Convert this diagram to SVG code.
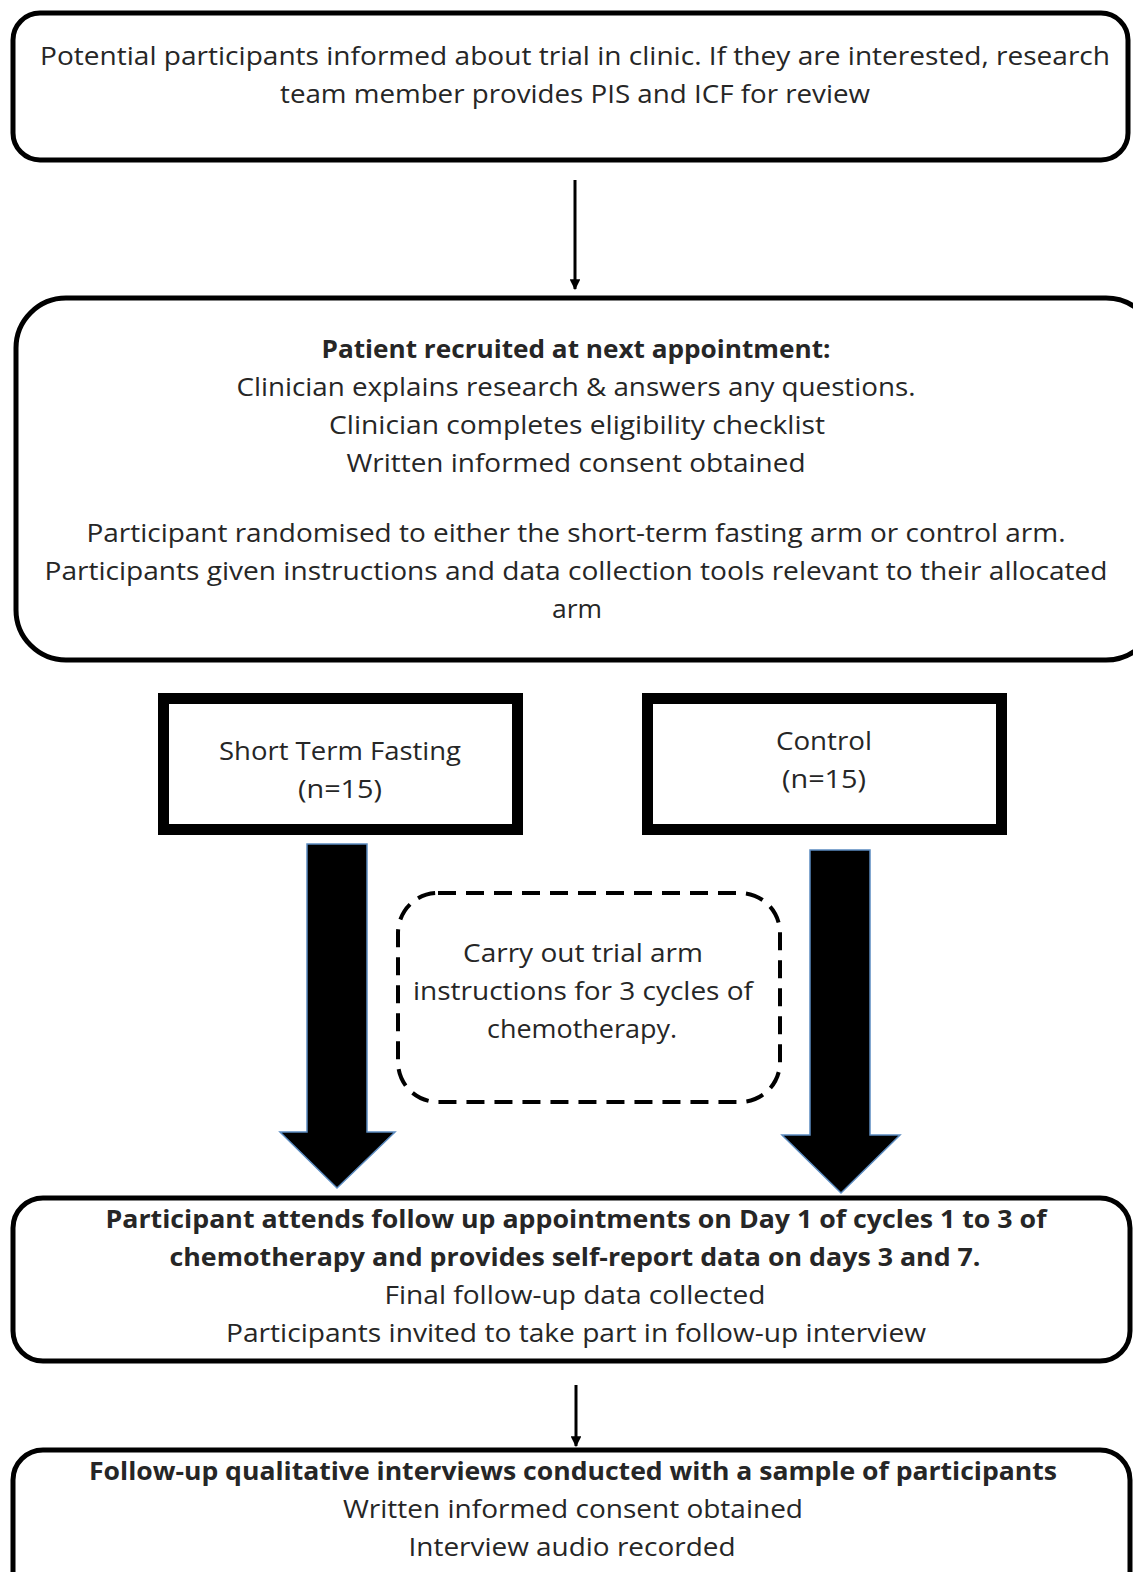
<svg xmlns="http://www.w3.org/2000/svg" width="1133" height="1572" viewBox="0 0 1133 1572">
  <style>
    .box { fill: #fff; stroke: #000; stroke-width: 5; }
    .arm { fill: #fff; stroke: #000; stroke-width: 11; }
    .dash { fill: #fff; stroke: #000; stroke-width: 4; stroke-dasharray: 18 10; }
    .t { font-family: "Open Sans", "Noto Sans", "Liberation Sans", sans-serif; font-size: 25px; fill: #262626; text-anchor: middle; }
    .b { font-weight: bold; }
    .big { fill: #000; stroke: #5b8bc0; stroke-width: 1.5; }
    .conn { stroke: #000; stroke-width: 3; fill: none; }
  </style>
  <defs>
    <marker id="head" viewBox="0 0 10 10" refX="9" refY="5" markerWidth="3.6" markerHeight="3.6" orient="auto" markerUnits="strokeWidth">
      <path d="M0,0 L10,5 L0,10 z" fill="#000"/>
    </marker>
  </defs>
  <rect width="1133" height="1572" fill="#fff"/>

  <!-- connectors -->
  <g id="connectors">
    <line class="conn" x1="575" y1="180" x2="575" y2="289" marker-end="url(#head)"/>
    <line class="conn" x1="576" y1="1385" x2="576" y2="1446" marker-end="url(#head)"/>
    <polygon class="big" points="307,844 367,844 367,1132 395,1132 337,1188 280,1132 307,1132"/>
    <polygon class="big" points="810,850 870,850 870,1135 900,1135 841,1193 782,1135 810,1135"/>
  </g>

  <!-- step 1: invitation -->
  <g id="invite">
    <rect class="box" x="13" y="13" width="1115" height="147" rx="27"/>
    <text class="t" x="575" y="65" textLength="1070" lengthAdjust="spacingAndGlyphs">Potential participants informed about trial in clinic. If they are interested, research</text>
    <text class="t" x="575" y="103" textLength="590" lengthAdjust="spacingAndGlyphs">team member provides PIS and ICF for review</text>
  </g>

  <!-- step 2: recruitment -->
  <g id="recruit">
    <rect class="box" x="16" y="298" width="1140" height="362" rx="50"/>
    <text class="t b" x="576" y="358" textLength="509" lengthAdjust="spacingAndGlyphs">Patient recruited at next appointment:</text>
    <text class="t" x="576" y="396" textLength="679" lengthAdjust="spacingAndGlyphs">Clinician explains research &amp; answers any questions.</text>
    <text class="t" x="577" y="434" textLength="496" lengthAdjust="spacingAndGlyphs">Clinician completes eligibility checklist</text>
    <text class="t" x="576" y="472" textLength="459" lengthAdjust="spacingAndGlyphs">Written informed consent obtained</text>
    <text class="t" x="576" y="542" textLength="979" lengthAdjust="spacingAndGlyphs">Participant randomised to either the short-term fasting arm or control arm.</text>
    <text class="t" x="576" y="580" textLength="1063" lengthAdjust="spacingAndGlyphs">Participants given instructions and data collection tools relevant to their allocated</text>
    <text class="t" x="577" y="618" textLength="50" lengthAdjust="spacingAndGlyphs">arm</text>
  </g>

  <!-- trial arms -->
  <g id="arm-stf">
    <rect class="arm" x="163.5" y="698.5" width="354" height="131"/>
    <text class="t" x="340" y="760" textLength="242" lengthAdjust="spacingAndGlyphs">Short Term Fasting</text>
    <text class="t" x="340" y="798" textLength="84" lengthAdjust="spacingAndGlyphs">(n=15)</text>
  </g>
  <g id="arm-control">
    <rect class="arm" x="647.5" y="698.5" width="354" height="131"/>
    <text class="t" x="824" y="750" textLength="96" lengthAdjust="spacingAndGlyphs">Control</text>
    <text class="t" x="824" y="788" textLength="84" lengthAdjust="spacingAndGlyphs">(n=15)</text>
  </g>

  <!-- intervention period -->
  <g id="intervention">
    <rect class="dash" x="398" y="893" width="382" height="209" rx="40"/>
    <text class="t" x="583" y="962" textLength="240" lengthAdjust="spacingAndGlyphs">Carry out trial arm</text>
    <text class="t" x="583" y="1000" textLength="340" lengthAdjust="spacingAndGlyphs">instructions for 3 cycles of</text>
    <text class="t" x="582" y="1038" textLength="190" lengthAdjust="spacingAndGlyphs">chemotherapy.</text>
  </g>

  <!-- follow-up appointments -->
  <g id="followup">
    <rect class="box" x="13" y="1198" width="1117" height="163" rx="30"/>
    <text class="t b" x="576" y="1228" textLength="941" lengthAdjust="spacingAndGlyphs">Participant attends follow up appointments on Day 1 of cycles 1 to 3 of</text>
    <text class="t b" x="575" y="1266" textLength="811" lengthAdjust="spacingAndGlyphs">chemotherapy and provides self-report data on days 3 and 7.</text>
    <text class="t" x="575" y="1304" textLength="381" lengthAdjust="spacingAndGlyphs">Final follow-up data collected</text>
    <text class="t" x="576" y="1342" textLength="700" lengthAdjust="spacingAndGlyphs">Participants invited to take part in follow-up interview</text>
  </g>

  <!-- qualitative interviews -->
  <g id="interviews">
    <rect class="box" x="13" y="1450" width="1117" height="160" rx="30"/>
    <text class="t b" x="573" y="1480" textLength="968" lengthAdjust="spacingAndGlyphs">Follow-up qualitative interviews conducted with a sample of participants</text>
    <text class="t" x="573" y="1518" textLength="460" lengthAdjust="spacingAndGlyphs">Written informed consent obtained</text>
    <text class="t" x="572" y="1556" textLength="327" lengthAdjust="spacingAndGlyphs">Interview audio recorded</text>
  </g>
</svg>
